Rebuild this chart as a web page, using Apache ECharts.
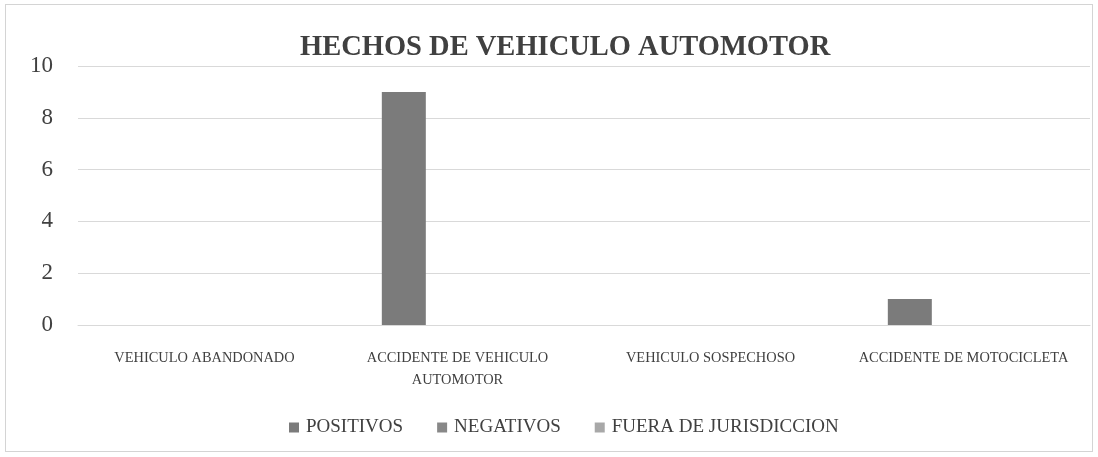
<!DOCTYPE html>
<html><head><meta charset="utf-8">
<script src="https://cdn.jsdelivr.net/npm/echarts@6/dist/echarts.min.js"></script>
<style>html,body{margin:0;padding:0;background:#fff}#c{width:1098px;height:457px}
#frame{position:absolute;left:5px;top:4px;width:1088px;height:448px;border:1px solid #d4d4d4;box-sizing:border-box;pointer-events:none}</style>
</head><body><div id="c"></div><div id="frame"></div>
<script>
const categories = ['VEHICULO ABANDONADO', 'ACCIDENTE DE VEHICULO\nAUTOMOTOR', 'VEHICULO SOSPECHOSO', 'ACCIDENTE DE MOTOCICLETA'];
const positivos = [0, 9, 0, 1];
const negativos = [0, 0, 0, 0];
const fuera = [0, 0, 0, 0];
const seriesNames = ['POSITIVOS', 'NEGATIVOS', 'FUERA DE JURISDICCION'];
const titleText = 'HECHOS DE VEHICULO AUTOMOTOR';

const font = "'Liberation Serif', 'DejaVu Serif', serif";
const chart = echarts.init(document.getElementById('c'));
const colors = ['#7b7b7b', '#888888', '#a8a8a8'];
chart.setOption({
  animation: false,
  color: colors,
  title: { text: titleText, left: 295, top: 28, textStyle: { fontFamily: font, fontWeight: 'bold', fontSize: 28.5, color: '#404040' } },
  grid: { left: 78, right: 8, top: 66, bottom: 132 },
  legend: { top: 413, left: 284, itemWidth: 10, itemHeight: 10, itemGap: 34, icon: 'rect',
    textStyle: { fontFamily: font, fontSize: 19, color: '#404040', padding: [0, 0, 0, 2] }, data: seriesNames },
  xAxis: { type: 'category', data: categories,
    axisLine: { show: true, lineStyle: { color: '#d9d9d9' } }, axisTick: { show: false },
    axisLabel: { fontFamily: font, fontSize: 14.4, color: '#404040', margin: 22, interval: 0, lineHeight: 22 } },
  yAxis: { type: 'value', min: 0, max: 10, interval: 2,
    axisLine: { show: false }, axisTick: { show: false },
    splitLine: { lineStyle: { color: '#d9d9d9' } },
    axisLabel: { fontFamily: font, fontSize: 23, color: '#404040', margin: 25 } },
  series: [
    { name: seriesNames[0], type: 'bar', data: positivos, barWidth: 44, barGap: '22%' },
    { name: seriesNames[1], type: 'bar', data: negativos, barWidth: 44, barGap: '22%' },
    { name: seriesNames[2], type: 'bar', data: fuera, barWidth: 44, barGap: '22%' }
  ]
});
</script></body></html>
